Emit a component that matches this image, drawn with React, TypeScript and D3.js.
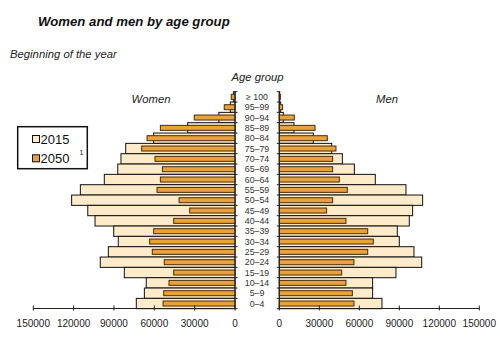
import React from "react";
import * as d3 from "d3";

const ages = ["≥ 100","95–99","90–94","85–89","80–84","75–79","70–74","65–69","60–64","55–59","50–54","45–49","40–44","35–39","30–34","25–29","20–24","15–19","10–14","5–9","0–4"];
const women2015 = [1200, 3500, 12000, 35200, 60500, 81300, 84800, 87200, 97200, 115000, 121500, 109500, 104100, 90200, 86800, 94200, 100200, 82300, 66000, 67400, 73400];
const women2050 = [2800, 8000, 30300, 55500, 65400, 69400, 59500, 54000, 55500, 58000, 41600, 33700, 45600, 60500, 63500, 61500, 52600, 45600, 49100, 53000, 53500];
const men2015 = [300, 1000, 3000, 11000, 25500, 39300, 47300, 56300, 72000, 95000, 107500, 100000, 97500, 88500, 90000, 101000, 106800, 87500, 70000, 70000, 77000];
const men2050 = [800, 2500, 11250, 26800, 36000, 42500, 40000, 40000, 45000, 51000, 40000, 35500, 50000, 66300, 70500, 66300, 56000, 46800, 50000, 54800, 56000];
const xTicks = [0, 30000, 60000, 90000, 120000, 150000];
const legendLabels = ["2015", "2050"];

const FONT = "'Liberation Sans', Arial, sans-serif";
const C2015 = "#fdebc9";
const C2050 = "#e9a13b";

export default function App() {
  const W = 500, H = 342;
  const top = 91.7, bottom = 308.7;
  const y = d3.scaleBand<string>().domain(ages).range([top, bottom]).padding(0);
  const xL = d3.scaleLinear().domain([0, 150000]).range([235, 33.3]);
  const xR = d3.scaleLinear().domain([0, 150000]).range([279.3, 479.3]);
  const bw = y.bandwidth();
  const ob = 5;
  const axisY = 308.5;

  return (
    <svg width={W} height={H} style={{ position: "fixed", left: 0, top: 0, background: "#fff" }} fontFamily={FONT}>
      <rect width={W} height={H} fill="#fff" />
      <text x={38} y={26} fontSize={13.2} fontWeight="bold" fontStyle="italic" fill="#111">Women and men by age group</text>
      <text x={10} y={58} fontSize={11.3} fontStyle="italic" fill="#222">Beginning of the year</text>
      <text x={257.5} y={81} fontSize={11.3} fontStyle="italic" fill="#222" textAnchor="middle">Age group</text>
      <text x={151} y={103} fontSize={11.3} fontStyle="italic" fill="#222" textAnchor="middle">Women</text>
      <text x={387} y={103} fontSize={11.3} fontStyle="italic" fill="#222" textAnchor="middle">Men</text>

      {/* 2015 bars */}
      {ages.map((a, i) => (
        <rect key={"w15" + i} x={xL(women2015[i])} y={y(a)!} width={xL(0) - xL(women2015[i])} height={bw} fill={C2015} stroke="#111" strokeWidth={1} />
      ))}
      {ages.map((a, i) => (
        <rect key={"m15" + i} x={xR(0)} y={y(a)!} width={xR(men2015[i]) - xR(0)} height={bw} fill={C2015} stroke="#111" strokeWidth={1} />
      ))}
      {/* 2050 bars */}
      {ages.map((a, i) => (
        <rect key={"w50" + i} x={xL(women2050[i])} y={y(a)! + (bw - ob) / 2} width={xL(0) - xL(women2050[i])} height={ob} fill={C2050} stroke="#4a2e08" strokeWidth={1} />
      ))}
      {ages.map((a, i) => (
        <rect key={"m50" + i} x={xR(0)} y={y(a)! + (bw - ob) / 2} width={xR(men2050[i]) - xR(0)} height={ob} fill={C2050} stroke="#4a2e08" strokeWidth={1} />
      ))}

      {/* vertical axes */}
      <line x1={235} x2={235} y1={top} y2={bottom} stroke="#222" strokeWidth={1} />
      <line x1={279.3} x2={279.3} y1={top} y2={bottom} stroke="#222" strokeWidth={1} />
      {d3.range(ages.length + 1).map((i) => {
        const yy = top + i * bw;
        return (
          <g key={"vt" + i}>
            <line x1={235} x2={237.5} y1={yy} y2={yy} stroke="#222" />
            <line x1={279.3} x2={276.8} y1={yy} y2={yy} stroke="#222" />
          </g>
        );
      })}
      {ages.map((a) => (
        <text key={"lab" + a} x={257} y={y(a)! + bw / 2 + 3} fontSize={8.8} fill="#333" textAnchor="middle">{a}</text>
      ))}

      {/* bottom axes */}
      <line x1={xL(150000)} x2={xL(0)} y1={axisY} y2={axisY} stroke="#222" />
      <line x1={xR(0)} x2={xR(150000)} y1={axisY} y2={axisY} stroke="#222" />
      {xTicks.map((t) => (
        <g key={"t" + t}>
          <line x1={xL(t)} x2={xL(t)} y1={axisY - 3} y2={axisY + 2} stroke="#222" />
          <text x={xL(t)} y={327} fontSize={10} fill="#222" textAnchor="middle">{t}</text>
          <line x1={xR(t)} x2={xR(t)} y1={axisY - 3} y2={axisY + 2} stroke="#222" />
          <text x={xR(t)} y={327} fontSize={10} fill="#222" textAnchor="middle">{t}</text>
        </g>
      ))}

      {/* legend */}
      <rect x={17.7} y={126.7} width={69.6} height={42} fill="#fff" stroke="#111" strokeWidth={1.5} />
      {legendLabels.map((l, i) => {
        const cy = 139 + i * 19.3;
        return (
          <g key={"lg" + l}>
            <rect x={32.5} y={cy - 3.5} width={7} height={7} fill={i === 0 ? C2015 : C2050} stroke="#111" strokeWidth={1} />
            <text x={40.5} y={cy + 4.7} fontSize={13} fill="#111">{l}</text>
          </g>
        );
      })}
      <text x={79.5} y={154.5} fontSize={7} fill="#111">1</text>
    </svg>
  );
}
